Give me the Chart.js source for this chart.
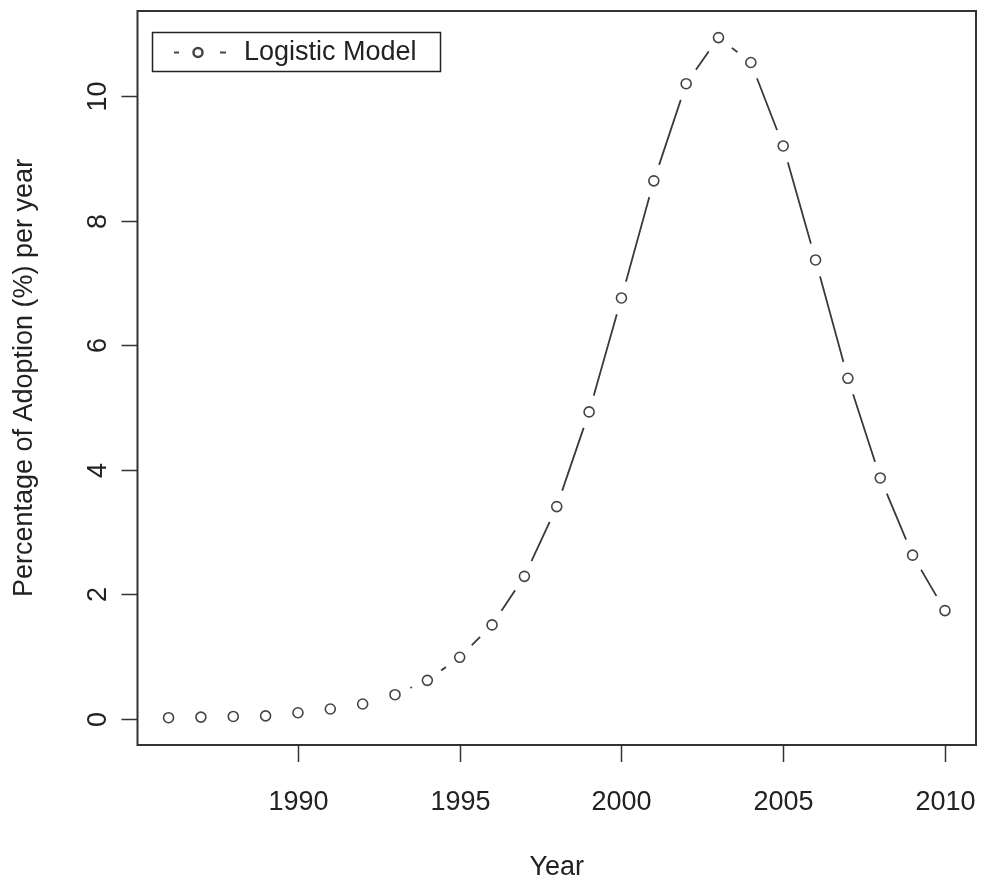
<!DOCTYPE html>
<html>
<head>
<meta charset="utf-8">
<script src="https://cdn.jsdelivr.net/npm/chart.js@4/dist/chart.umd.min.js"></script>
<style>
  html, body { margin: 0; padding: 0; background: #fff; overflow: hidden; }
  #wrap { width: 981px; height: 884px; position: relative; }
  canvas { display: block; }
</style>
</head>
<body>
<div id="wrap"><canvas id="c" width="981" height="884"></canvas></div>
<script>
const years = [1986, 1987, 1988, 1989, 1990, 1991, 1992, 1993, 1994, 1995, 1996, 1997,
               1998, 1999, 2000, 2001, 2002, 2003, 2004, 2005, 2006, 2007, 2008, 2009, 2010];
const adoption = [0.02, 0.03, 0.04, 0.05, 0.10, 0.16, 0.24, 0.39, 0.62, 0.99, 1.51, 2.29,
                  3.41, 4.93, 6.76, 8.64, 10.20, 10.94, 10.54, 9.20, 7.37, 5.47, 3.87, 2.63, 1.74];
const xTicks = [1990, 1995, 2000, 2005, 2010];
const yTicks = [0, 2, 4, 6, 8, 10];
const seriesName = "Logistic Model";
const xTitle = "Year";
const yTitle = "Percentage of Adoption (%) per year";

const pts = years.map((y, i) => ({ x: y, y: adoption[i] }));

const FONT = '27px "Liberation Sans", Arial, sans-serif';
const TEXT = '#222';

const rPlot = {
  id: 'rPlot',
  afterDraw(chart) {
    const ctx = chart.ctx;
    const a = chart.chartArea;
    const xs = chart.scales.x, ys = chart.scales.y;
    ctx.save();
    // box
    ctx.strokeStyle = '#333';
    ctx.lineWidth = 2;
    ctx.strokeRect(a.left, a.top, a.right - a.left, a.bottom - a.top);
    // ticks
    ctx.lineWidth = 1.5;
    ctx.strokeStyle = '#333';
    ctx.fillStyle = TEXT;
    ctx.font = FONT;
    ctx.textAlign = 'center';
    ctx.textBaseline = 'middle';
    xTicks.forEach(v => {
      const px = Math.round(xs.getPixelForValue(v)) + 0.5;
      ctx.beginPath(); ctx.moveTo(px, a.bottom); ctx.lineTo(px, a.bottom + 17); ctx.stroke();
      ctx.fillText(String(v), px, a.bottom + 58);
    });
    yTicks.forEach(v => {
      const py = Math.round(ys.getPixelForValue(v)) + 0.5;
      ctx.beginPath(); ctx.moveTo(a.left, py); ctx.lineTo(a.left - 16, py); ctx.stroke();
      ctx.save();
      ctx.translate(a.left - 39, py);
      ctx.rotate(-Math.PI / 2);
      ctx.fillText(String(v), 0, 0);
      ctx.restore();
    });
    // axis titles
    ctx.fillText(xTitle, (a.left + a.right) / 2, 868);
    ctx.save();
    ctx.translate(25, (a.top + a.bottom) / 2);
    ctx.rotate(-Math.PI / 2);
    ctx.fillText(yTitle, 0, 0);
    ctx.restore();
    // legend
    const lx = 152, ly = 32, lw = 288, lh = 39;
    ctx.strokeStyle = '#222';
    ctx.lineWidth = 1.5;
    ctx.strokeRect(lx + 0.5, ly + 0.5, lw, lh);
    const cy = ly + lh / 2 + 1;
    ctx.strokeStyle = '#444';
    ctx.lineWidth = 2;
    ctx.beginPath(); ctx.moveTo(174, cy); ctx.lineTo(179, cy); ctx.stroke();
    ctx.beginPath(); ctx.moveTo(220, cy); ctx.lineTo(226, cy); ctx.stroke();
    ctx.lineWidth = 2.5;
    ctx.beginPath(); ctx.arc(198, cy, 4.5, 0, Math.PI * 2); ctx.stroke();
    ctx.fillStyle = TEXT;
    ctx.textAlign = 'left';
    ctx.fillText(seriesName, 244, cy);
    ctx.restore();
  }
};

new Chart(document.getElementById('c'), {
  type: 'line',
  data: {
    datasets: [
      {
        label: seriesName,
        data: pts,
        showLine: false,
        pointRadius: 5,
        pointBorderWidth: 1.6,
        pointBorderColor: '#444',
        pointBackgroundColor: 'rgba(255,255,255,0)',
        clip: false
      },
      {
        label: 'gap',
        data: pts,
        showLine: false,
        pointRadius: 17,
        pointBorderWidth: 0,
        pointBorderColor: '#fff',
        pointBackgroundColor: '#fff',
        clip: false
      },
      {
        label: 'line',
        data: pts,
        borderColor: '#3a3a3a',
        borderWidth: 1.8,
        pointRadius: 0,
        tension: 0,
        fill: false
      }
    ]
  },
  options: {
    responsive: false,
    animation: false,
    events: [],
    layout: { autoPadding: false, padding: { left: 137.5, right: 5, top: 11, bottom: 139 } },
    plugins: { legend: { display: false }, tooltip: { enabled: false } },
    scales: {
      x: { type: 'linear', min: 1985.04, max: 2010.96, display: false },
      y: { type: 'linear', min: -0.418, max: 11.367, display: false }
    }
  },
  plugins: [rPlot]
});
</script>
</body>
</html>
